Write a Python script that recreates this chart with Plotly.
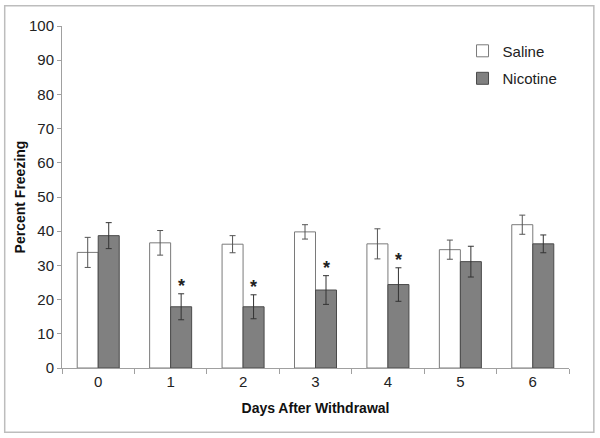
import plotly.graph_objects as go

days = ["0", "1", "2", "3", "4", "5", "6"]
saline = [33.8, 36.6, 36.2, 39.8, 36.3, 34.6, 41.9]
saline_err = [4.4, 3.6, 2.5, 2.1, 4.4, 2.8, 2.8]
nicotine = [38.7, 17.9, 17.9, 22.8, 24.4, 31.1, 36.3]
nicotine_err = [3.8, 3.8, 3.5, 4.2, 4.9, 4.5, 2.6]
significant = [False, True, True, True, True, False, False]
y_ticks = [0, 10, 20, 30, 40, 50, 60, 70, 80, 90, 100]

xpos = list(range(len(days)))
font = "Arial, Liberation Sans, sans-serif"

fig = go.Figure()
fig.add_trace(go.Bar(
    x=xpos, y=saline, name="Saline", legendgroup="s",
    marker=dict(color="white", line=dict(color="#7a7a7a", width=1)),
    error_y=dict(type="data", array=saline_err, color="#555555", thickness=1, width=3),
))
fig.add_trace(go.Bar(
    x=xpos, y=nicotine, name="Nicotine", legendgroup="n",
    marker=dict(color="#808080", line=dict(color="#4a4a4a", width=1)),
    error_y=dict(type="data", array=nicotine_err, color="#333333", thickness=1, width=3),
))

annotations = []
for i, (sig, v, e) in enumerate(zip(significant, nicotine, nicotine_err)):
    if sig:
        annotations.append(dict(
            x=i + 0.145, y=v + e, xref="x", yref="y", text="<b>*</b>", showarrow=False,
            yanchor="bottom", yshift=-4, font=dict(size=18, color="#222", family=font),
        ))

fig.update_layout(
    width=600, height=438,
    margin=dict(l=62, r=31, t=26, b=70, autoexpand=False),
    paper_bgcolor="white", plot_bgcolor="white",
    barmode="group", bargap=0.42, bargroupgap=0,
    font=dict(family=font, color="#222", size=15),
    showlegend=True,
    legend=dict(x=0.79, y=0.975, xanchor="left", yanchor="top",
                bgcolor="rgba(0,0,0,0)", font=dict(size=15, color="#222"),
                itemwidth=30, tracegroupgap=5),
    annotations=annotations,
    shapes=[dict(type="rect", xref="paper", yref="paper", x0=-0.113, x1=1.049, y0=-0.188, y1=1.059,
                 line=dict(color="#bdbdbd", width=1.5), fillcolor="rgba(0,0,0,0)", layer="above")],
)
fig.update_xaxes(
    range=[-0.5, 6.5], tickmode="array", tickvals=xpos, ticktext=days, automargin=False,
    showline=True, linecolor="#a0a0a0", linewidth=1, ticks="", showgrid=False, zeroline=False,
    tickfont=dict(size=15, color="#222"),
    title=dict(text="<b>Days After Withdrawal</b>", font=dict(size=14, color="#111"), standoff=14),
    minor=dict(tickmode="array", tickvals=[i + 0.5 for i in range(-1, 7)], ticks="outside", ticklen=5, tickcolor="#a0a0a0"),
)
fig.update_yaxes(
    range=[0, 100], tickmode="array", tickvals=y_ticks, automargin=False,
    showline=True, linecolor="#a0a0a0", linewidth=1, ticks="outside", ticklen=4, tickcolor="#a0a0a0",
    showgrid=False, zeroline=False, tickfont=dict(size=15, color="#222"),
    title=dict(text="<b>Percent Freezing</b>", font=dict(size=14, color="#111"), standoff=0),
)

fig.write_html("out.html", config={"displayModeBar": False},
               post_script="document.body.style.margin='0';document.body.style.overflow='hidden';")
